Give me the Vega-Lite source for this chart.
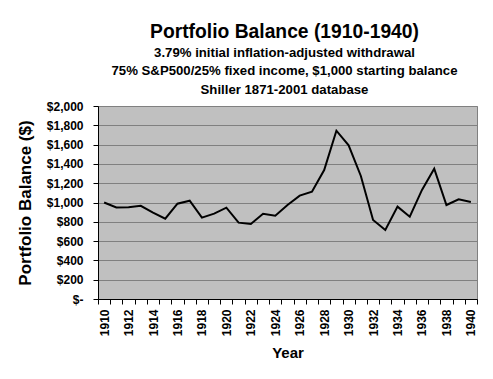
{
  "$schema": "https://vega.github.io/schema/vega-lite/v6.json",
  "width": 379,
  "height": 193,
  "autosize": "none",
  "padding": {"left": 98, "top": 106, "right": 16, "bottom": 80},
  "background": "white",
  "title": {
    "text": "Portfolio Balance (1910-1940)",
    "subtitle": ["3.79% initial inflation-adjusted withdrawal", "75% S&P500/25% fixed income, $1,000 starting balance", "Shiller 1871-2001 database"],
    "anchor": "middle",
    "frame": "group",
    "font": "Liberation Sans",
    "fontSize": 19.3,
    "fontWeight": "bold",
    "color": "black",
    "subtitleFont": "Liberation Sans",
    "subtitleFontSize": 13.2,
    "subtitleFontWeight": "bold",
    "subtitleColor": "black",
    "subtitleLineHeight": 18.5,
    "subtitlePadding": 5,
    "offset": 4,
    "dx": -3
  },
  "data": {
    "values": [
      {"year": 1910, "balance": 1000},
      {"year": 1911, "balance": 948},
      {"year": 1912, "balance": 950},
      {"year": 1913, "balance": 965},
      {"year": 1914, "balance": 895},
      {"year": 1915, "balance": 832},
      {"year": 1916, "balance": 988},
      {"year": 1917, "balance": 1019},
      {"year": 1918, "balance": 843},
      {"year": 1919, "balance": 884},
      {"year": 1920, "balance": 946},
      {"year": 1921, "balance": 791},
      {"year": 1922, "balance": 777},
      {"year": 1923, "balance": 884},
      {"year": 1924, "balance": 863},
      {"year": 1925, "balance": 975},
      {"year": 1926, "balance": 1071},
      {"year": 1927, "balance": 1112},
      {"year": 1928, "balance": 1337},
      {"year": 1929, "balance": 1744},
      {"year": 1930, "balance": 1593},
      {"year": 1931, "balance": 1275},
      {"year": 1932, "balance": 819},
      {"year": 1933, "balance": 715},
      {"year": 1934, "balance": 957},
      {"year": 1935, "balance": 853},
      {"year": 1936, "balance": 1130},
      {"year": 1937, "balance": 1350},
      {"year": 1938, "balance": 974},
      {"year": 1939, "balance": 1033},
      {"year": 1940, "balance": 1005}
    ]
  },
  "mark": {"type": "line", "color": "black", "strokeWidth": 2},
  "encoding": {
    "x": {
      "field": "year",
      "type": "ordinal",
      "scale": {"paddingInner": 0, "paddingOuter": 0},
      "axis": {
        "title": "Year",
        "titleFont": "Liberation Sans",
        "titleFontSize": 15,
        "titleFontWeight": "bold",
        "titleColor": "black",
        "titlePadding": 10,
        "labelAngle": -90,
        "labelAlign": "right",
        "labelBaseline": "middle",
        "labelFont": "Liberation Sans",
        "labelFontSize": 12,
        "labelFontWeight": "bold",
        "labelColor": "black",
        "labelPadding": 5,
        "labelExpr": "datum.value % 2 == 0 ? datum.label : ''",
        "labelOverlap": false,
        "tickBand": "extent",
        "tickSize": 5,
        "tickColor": "black",
        "domainColor": "black",
        "grid": false
      }
    },
    "y": {
      "field": "balance",
      "type": "quantitative",
      "scale": {"domain": [0, 2000], "nice": false},
      "axis": {
        "title": "Portfolio Balance ($)",
        "titleFont": "Liberation Sans",
        "titleFontSize": 17,
        "titleFontWeight": "bold",
        "titleColor": "black",
        "titlePadding": 12,
        "values": [0, 200, 400, 600, 800, 1000, 1200, 1400, 1600, 1800, 2000],
        "labelExpr": "datum.value == 0 ? '$-\u00a0\u00a0\u00a0' : '$' + format(datum.value, ',')",
        "labelFont": "Liberation Sans",
        "labelFontSize": 12,
        "labelFontWeight": "bold",
        "labelColor": "black",
        "labelPadding": 10,
        "tickSize": 5,
        "tickColor": "black",
        "domainColor": "black",
        "gridColor": "#808080",
        "gridOpacity": 1
      }
    }
  },
  "config": {
    "view": {"fill": "#C0C0C0", "stroke": "#808080", "strokeWidth": 1}
  }
}
